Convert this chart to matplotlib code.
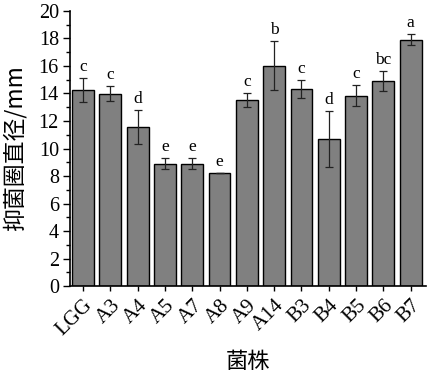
import matplotlib
matplotlib.use('Agg')
import matplotlib.pyplot as plt
import matplotlib.transforms as mtransforms
from matplotlib.ticker import MultipleLocator

# 数据
strains = ['LGG', 'A3', 'A4', 'A5', 'A7', 'A8', 'A9', 'A14', 'B3', 'B4', 'B5', 'B6', 'B7']
means = [14.23, 13.99, 11.56, 8.90, 8.90, 8.19, 13.53, 16.02, 14.30, 10.67, 13.84, 14.91, 17.91]
errs = [0.87, 0.53, 1.24, 0.39, 0.39, 0.0, 0.48, 1.78, 0.66, 2.03, 0.76, 0.70, 0.40]
letters = ['c', 'c', 'd', 'e', 'e', 'e', 'c', 'b', 'c', 'd', 'c', 'bc', 'a']

plt.rcParams['font.family'] = ['Liberation Serif', 'Noto Sans CJK SC']

fig = plt.figure(figsize=(4.32, 3.75), dpi=100)
ax = fig.add_axes([0.162, 0.237, 0.824, 0.734])

x = list(range(len(strains)))
ax.bar(x, means, width=0.8, color='#808080', edgecolor='black', linewidth=1.0,
       yerr=errs, capsize=3, error_kw={'elinewidth': 0.9, 'capthick': 0.9, 'ecolor': '#222222'})

# 显著性字母
for xi, m, e, t in zip(x, means, errs, letters):
    ax.text(xi, m + e + 0.25, t, ha='center', va='bottom', fontsize=12.5)

ax.set_xlim(-0.48, 12.56)
ax.set_ylim(0, 20)
ax.yaxis.set_major_locator(MultipleLocator(2))
ax.yaxis.set_minor_locator(MultipleLocator(1))
ax.tick_params(axis='y', which='major', length=5, width=1, labelsize=14.5, pad=3)
ax.tick_params(axis='y', which='minor', length=3, width=1)
ax.tick_params(axis='x', length=3.5, width=1, labelsize=15, pad=2)

ax.set_xticks(x)
ax.set_xticklabels(strains, rotation=45, ha='right', va='center', rotation_mode='anchor')
# 标签右下偏移
offset = mtransforms.ScaledTranslation(7 / 100, -9 / 100, fig.dpi_scale_trans)
for lab in ax.get_xticklabels():
    lab.set_transform(lab.get_transform() + offset)

ax.spines['top'].set_visible(False)
ax.spines['right'].set_visible(False)
ax.spines['left'].set_linewidth(1.2)
ax.spines['bottom'].set_linewidth(1.2)

ax.set_ylabel('抑菌圈直径/mm', fontsize=16.5, family=['Noto Sans CJK SC', 'Liberation Serif'], labelpad=9)
ax.set_xlabel('菌株', fontsize=16, family=['Noto Sans CJK SC'], labelpad=7)

fig.savefig('out.png', dpi=100)
